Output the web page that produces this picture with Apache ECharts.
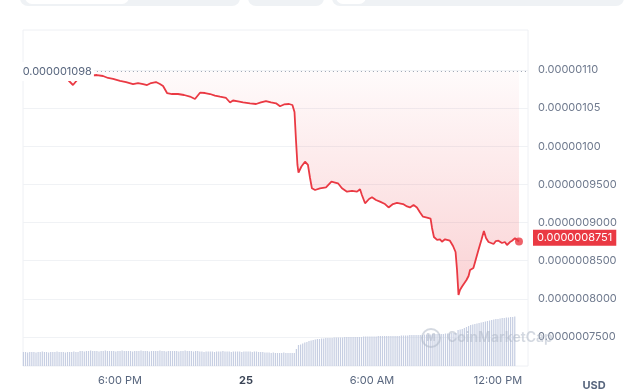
<!DOCTYPE html>
<html><head><meta charset="utf-8">
<script src="https://cdn.jsdelivr.net/npm/echarts@6/dist/echarts.min.js"></script>
<style>html,body{margin:0;padding:0;background:#fff}#c{width:640px;height:392px}</style>
</head><body><div id="c"></div>
<script>
// time in hours relative to midnight of the 25th; prices in micro-USD (1e-6 USD)
const priceTimes = [-10.62,-10.05,-9.43,-8.86,-8.48,-8.24,-8.00,-7.52,-7.10,-6.81,-6.57,-6.33,-6.00,-5.71,-5.38,-5.14,-4.90,-4.71,-4.52,-4.29,-4.10,-3.95,-3.76,-3.52,-3.24,-2.95,-2.67,-2.43,-2.19,-1.95,-1.71,-1.48,-1.24,-0.95,-0.76,-0.62,-0.38,-0.14,0.19,0.48,0.71,0.95,1.19,1.43,1.62,1.81,2.05,2.21,2.31,2.38,2.45,2.50,2.64,2.81,2.95,3.05,3.14,3.29,3.52,3.81,4.07,4.24,4.38,4.57,4.81,5.05,5.29,5.43,5.52,5.67,5.86,6.00,6.19,6.38,6.62,6.79,7.00,7.19,7.48,7.67,7.81,7.98,8.14,8.29,8.43,8.62,8.79,8.86,8.95,9.10,9.24,9.33,9.48,9.71,9.86,9.98,10.05,10.12,10.19,10.29,10.50,10.60,10.67,10.83,10.95,11.07,11.21,11.33,11.43,11.55,11.67,11.79,11.90,12.02,12.19,12.33,12.43,12.57,12.67,12.81,13.00];
const priceValues = [1.0980,1.0960,1.0934,1.0908,1.0869,1.0803,1.0882,1.0921,1.0934,1.0921,1.0895,1.0882,1.0856,1.0842,1.0816,1.0829,1.0816,1.0803,1.0829,1.0842,1.0816,1.0790,1.0698,1.0685,1.0685,1.0672,1.0652,1.0620,1.0702,1.0698,1.0685,1.0665,1.0650,1.0633,1.0574,1.0600,1.0587,1.0574,1.0561,1.0554,1.0574,1.0593,1.0574,1.0563,1.0524,1.0548,1.0554,1.0541,1.0449,1.0082,0.9755,0.9656,0.9735,0.9798,0.9755,0.9584,0.9449,0.9427,0.9449,0.9460,0.9536,0.9525,0.9515,0.9449,0.9405,0.9414,0.9405,0.9436,0.9361,0.9253,0.9309,0.9331,0.9296,0.9274,0.9243,0.9198,0.9243,0.9257,0.9243,0.9211,0.9198,0.9230,0.9198,0.9132,0.9077,0.9066,0.9053,0.8929,0.8811,0.8772,0.8781,0.8749,0.8781,0.8762,0.8693,0.8614,0.8378,0.8051,0.8116,0.8162,0.8247,0.8300,0.8378,0.8405,0.8523,0.8640,0.8772,0.8889,0.8798,0.8745,0.8732,0.8719,0.8758,0.8762,0.8732,0.8745,0.8706,0.8745,0.8762,0.8794,0.8751];
const openPrice = 1.098;
const currentPrice = 0.8751;
// volume bars (relative units), one every 0.1 h starting at -10.6 h
const volStart = -10.6, volStep = 0.1;
const volumeValues = [
14,14,13.5,14,14,14,13.5,14,14,14.5,14,14,13.5,14,14,14,14.5,14,14,14,13.5,14,14,14,14.5,14,14,
15,15,14.5,15,15,15.5,15,15,15,14.5,15,15,15.5,15,15,15,15,14.5,15,15,15.5,15,15,15,15,14.5,15,15,15,15.5,15,15,15,14.5,15,15,15,15,15.5,15,15,14.5,15,15,15,15,15,14.5,15,15,15.5,15,15,15,14.5,15,15,
14.5,14.5,14,14.5,14.5,14.5,14.5,14,14.5,14.5,14.5,15,14.5,14.5,14.5,14,14.5,14.5,14.5,14.5,14,14.5,14.5,14.5,14.5,14,14.5,14.5,14,14,14,
13.5,13.5,13.5,13,13.5,13,13,13,13,13.5,13,13,13,13,13,
17,21,
21.5,22.5,23.5,24,25,
25.5,26,26.5,27,27,27.5,27.5,28,28,
28,28,28.5,28.5,28.5,28.5,28.5,29,29,29,29,29,29,29,
29,29,29.5,29.5,29.5,29.5,29.5,29.5,29.5,30,30,30,30,30,30,30,30,30,30,
30,30.5,30.5,30.5,30.5,31,31,31,31,31,31,31,31.5,31.5,31.5,31.5,32,32,32,32,32,32,32.5,32.5,32.5,33,33,33,
36,36.5,37,38,39,40,
41,41.5,42,42.5,43,43.5,
44,44.5,45,45.5,46,46.5,47,
47,47.5,48,48,48.5,48.5,
49,49,49.5
];
const xTicks = [-6, 0, 6, 12];
const xTickLabels = ['6:00 PM', '25', '6:00 AM', '12:00 PM'];
const yTicks = [0.75, 0.80, 0.85, 0.90, 0.95, 1.00, 1.05, 1.10];

const xMin = -10.62, xMax = 13.43;
const yMin = 0.7120, yMax = 1.1524;
const RED = '#ea3943';
const FONT = 'Inter, "Noto Sans", sans-serif';

function fmtPrice(v, d) {
  const usd = v * 1e-6;
  if (d !== undefined) return usd.toFixed(d);
  return v >= 0.99999 ? usd.toFixed(8) : usd.toFixed(10);
}

const priceData = priceTimes.map((t, i) => [t, priceValues[i]]);
const volData = volumeValues.map((v, i) => [volStart + i * volStep, v]);
const last = priceData[priceData.length - 1];

const chart = echarts.init(document.getElementById('c'), null, {renderer: 'canvas'});
chart.setOption({
  animation: false,
  backgroundColor: '#fff',
  textStyle: {fontFamily: FONT},
  grid: [
    {left: 23, right: 112, top: 30, bottom: 26, show: true, borderColor: '#eef0f4', borderWidth: 1, backgroundColor: 'transparent'},
    {left: 23, right: 112, bottom: 26, height: 66}
  ],
  xAxis: [
    {type: 'value', gridIndex: 0, min: xMin, max: xMax, show: false},
    {type: 'value', gridIndex: 1, min: xMin, max: xMax,
     axisLine: {show: false}, axisTick: {show: false, customValues: xTicks}, splitLine: {show: false},
     axisLabel: {customValues: xTicks, margin: 9, fontSize: 11, color: '#58667e', fontFamily: FONT,
       formatter: v => { const i = xTicks.indexOf(v); return i === 1 ? '{b|' + xTickLabels[i] + '}' : (i >= 0 ? xTickLabels[i] : ''); },
       rich: {b: {fontWeight: 'bold', fontSize: 11, color: '#3a4456', fontFamily: FONT}}}}
  ],
  yAxis: [
    {type: 'value', gridIndex: 0, position: 'right', min: yMin, max: yMax,
     axisLine: {show: false}, axisTick: {show: false, customValues: yTicks},
     splitLine: {show: true, lineStyle: {color: '#f0f2f5', width: 1}},
     axisLabel: {customValues: yTicks, margin: 10, fontSize: 11, color: '#6f7a8e', fontFamily: FONT,
       formatter: v => fmtPrice(v)}},
    {type: 'value', gridIndex: 1, min: 0, max: 66, show: false}
  ],
  series: [
    {type: 'bar', xAxisIndex: 1, yAxisIndex: 1, data: volData, barWidth: 1.2, silent: true,
     itemStyle: {color: '#c6cee2'}, z: 1},
    {type: 'line', xAxisIndex: 0, yAxisIndex: 0, data: priceData, showSymbol: false, silent: true,
     lineStyle: {color: RED, width: 1.8}, z: 3,
     areaStyle: {origin: openPrice, color: new echarts.graphic.LinearGradient(0, 0, 0, 1, [
       {offset: 0, color: 'rgba(234,57,67,0.03)'}, {offset: 1, color: 'rgba(234,57,67,0.32)'}])},
     markLine: {silent: true, symbol: ['none', 'none'], z: 6, data: [
       [{coord: [-7.10, openPrice], lineStyle: {type: [1, 3], color: '#9aa2b1', width: 1},
         label: {show: true, position: 'start', distance: 3, formatter: () => fmtPrice(openPrice, 9),
           color: '#58667e', fontSize: 11, fontFamily: FONT, backgroundColor: '#fff', padding: [4, 2, 4, 4]}},
        {coord: [xMax, openPrice]}],
       {yAxis: currentPrice, lineStyle: {color: 'rgba(0,0,0,0)', width: 0},
        label: {show: true, position: 'end', distance: 5, formatter: () => fmtPrice(currentPrice),
          color: '#fff', backgroundColor: RED, fontSize: 11, fontFamily: FONT, padding: [3, 4, 2, 4]}}
     ]}},
    {type: 'scatter', xAxisIndex: 0, yAxisIndex: 0, data: [last], symbolSize: 8, silent: true,
     itemStyle: {color: RED}, z: 5}
  ],
  graphic: [
    {type: 'rect', left: 20, top: -10, shape: {width: 220, height: 16, r: 8}, style: {fill: '#eff2f5'}, silent: true},
    {type: 'rect', left: 25, top: -10, shape: {width: 104, height: 14, r: 7}, style: {fill: '#fff'}, silent: true},
    {type: 'rect', left: 248, top: -10, shape: {width: 76, height: 16, r: 8}, style: {fill: '#eff2f5'}, silent: true},
    {type: 'rect', left: 332, top: -10, shape: {width: 292, height: 16, r: 8}, style: {fill: '#eff2f5'}, silent: true},
    {type: 'rect', left: 336, top: -10, shape: {width: 30, height: 14, r: 7}, style: {fill: '#fff'}, silent: true},
    {type: 'circle', shape: {cx: 431, cy: 338, r: 9}, style: {fill: 'none', stroke: 'rgba(170,180,195,0.5)', lineWidth: 2}, z: 20, silent: true},
    {type: 'text', x: 431, y: 338, style: {text: 'M', fill: 'rgba(170,180,195,0.5)', font: 'bold 10px ' + FONT, align: 'center', verticalAlign: 'middle'}, z: 20, silent: true},
    {type: 'text', x: 447, y: 338, style: {text: 'CoinMarketCap', fill: 'rgba(170,180,195,0.5)', font: '600 14px ' + FONT, verticalAlign: 'middle'}, z: 20, silent: true},
    {type: 'text', x: 594, y: 386, style: {text: 'USD', fill: '#58667e', font: 'bold 11px ' + FONT, align: 'center', verticalAlign: 'middle'}, silent: true}
  ]
});
</script></body></html>
